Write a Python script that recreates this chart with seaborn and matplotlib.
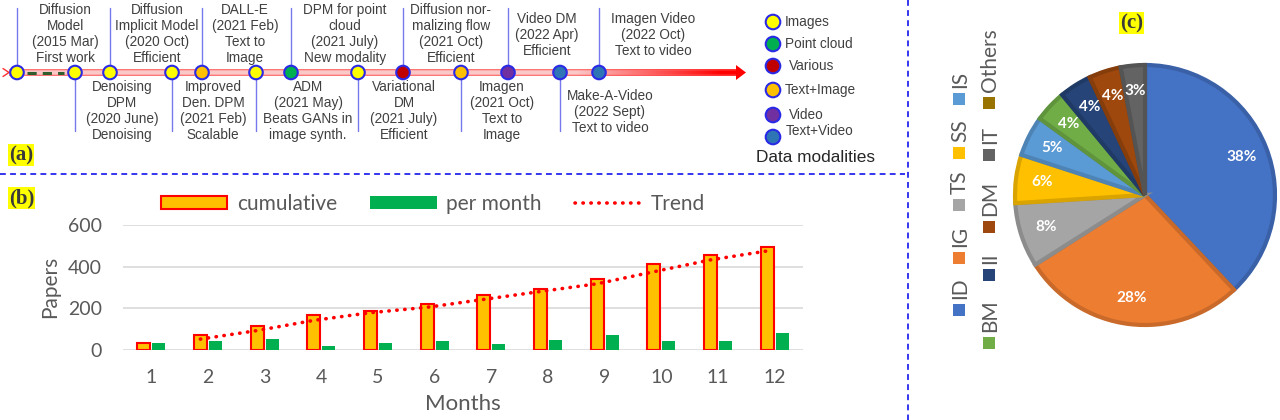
import numpy as np
import pandas as pd
import matplotlib
matplotlib.use("Agg")
import matplotlib.pyplot as plt
import seaborn as sns
from matplotlib.patches import Polygon, Rectangle, Patch
from matplotlib.lines import Line2D
from matplotlib.colors import to_rgb

# ---------------- data ----------------
# (a) timeline
event_texts = [
    "Diffusion\nModel\n(2015 Mar)\nFirst work",
    "Denoising\nDPM\n(2020 June)\nDenoising",
    "Diffusion\nImplicit Model\n(2020 Oct)\nEfficient",
    "Improved\nDen. DPM\n(2021 Feb)\nScalable",
    "DALL-E\n(2021 Feb)\nText to\nImage",
    "ADM\n(2021 May)\nBeats GANs in\nimage synth.",
    "DPM for point\ncloud\n(2021 July)\nNew modality",
    "Variational\nDM\n(2021 July)\nEfficient",
    "Diffusion nor-\nmalizing flow\n(2021 Oct)\nEfficient",
    "Imagen\n(2021 Oct)\nText to\nImage",
    "Video DM\n(2022 Apr)\nEfficient",
    "Make-A-Video\n(2022 Sept)\nText to video",
    "Imagen Video\n(2022 Oct)\nText to video",
]
event_modality = ["Images", "Images", "Images", "Images", "Text+Image", "Images",
                  "Point cloud", "Images", "Various", "Text+Image", "Video",
                  "Text+Video", "Text+Video"]
modalities = ["Images", "Point cloud", "Various", "Text+Image", "Video", "Text+Video"]
modality_legend_title = "Data modalities"

# (b) papers per month
months = [1, 2, 3, 4, 5, 6, 7, 8, 9, 10, 11, 12]
cumulative = [34, 69, 114, 168, 188, 220, 265, 294, 339, 411, 454, 496]
per_month = [34, 43, 51, 18, 32, 40, 27, 45, 72, 40, 43, 79]
trend_months = [2, 3, 4, 5, 6, 7, 8, 9, 10, 11, 12]
trend = [51, 92, 141, 178, 204, 242, 280, 317, 375, 432, 475]
y_ticks = [0, 200, 400, 600]

# (c) pie
pie_labels = ["ID", "IG", "TS", "SS", "IS", "BM", "II", "DM", "IT", "Others"]
pie_values = [38, 28, 8, 6, 5, 4, 4, 4, 3, 0]

# ---------------- styles / layout ----------------
modality_colors = {"Images": "#ffff00", "Point cloud": "#00b050", "Various": "#c00000",
                   "Text+Image": "#ffc000", "Video": "#7030a0", "Text+Video": "#2e75b6"}
pie_colors = ["#4472c4", "#ed7d31", "#a5a5a5", "#ffc000", "#5b9bd5",
              "#70ad47", "#264478", "#9e480e", "#636363", "#997300"]

event_x = [17, 75, 110, 172, 202, 256, 291, 358, 403, 461, 508, 560, 599]
text_x = [65, 122, 157, 213, 245, 308, 345, 404, 451, 502, 547, 610, 653]
TL_Y = 72.5

sns.set_theme(style="white")
plt.rcParams["font.family"] = ["Liberation Sans", "DejaVu Sans"]

W, H = 1280, 420
fig = plt.figure(figsize=(W / 100, H / 100), dpi=100)

# overlay axes in pixel coordinates
ov = fig.add_axes([0, 0, 1, 1])
ov.set_xlim(0, W)
ov.set_ylim(H, 0)
ov.axis("off")

# separators
sep_col = "#3535ee"
ov.plot([0, 905], [174, 174], color=sep_col, lw=1.4, dashes=(3, 2.2))
ov.plot([908, 908], [0, 420], color=sep_col, lw=1.4, dashes=(3, 2.2))

# gradient timeline band
x0, x1, y0, y1 = 9, 737, 69, 76
n = 600
t = np.linspace(0, 1, n)
pink = np.array(to_rgb("#fbc8c8"))
red = np.array([1.0, 0.0, 0.0])
ramp = np.clip((t - 0.78) / 0.2, 0, 1)[:, None]
base = pink * (1 - ramp) + red * ramp
rows = []
for r in range(7):
    if r in (0, 6):
        rows.append(base * 0.35 + np.array(to_rgb("#ff4a4a")) * 0.65)
    elif r in (1, 5):
        rows.append(base * 0.7 + np.array(to_rgb("#ff6a6a")) * 0.3)
    else:
        rows.append(base)
img = np.stack(rows, axis=0)
ov.imshow(img, extent=[x0, x1, y1, y0], aspect="auto", interpolation="bilinear", zorder=2)
ov.add_patch(Polygon([(x1 - 1, 65), (746, TL_Y), (x1 - 1, 80)], closed=True,
                     facecolor="#ff0000", edgecolor="none", zorder=2))
ov.plot([3, 9, 3], [68.5, TL_Y, 76.5], color="#ff3030", lw=1, zorder=2)
ov.set_xlim(0, W)
ov.set_ylim(H, 0)

# dashed first segment
ov.plot([27, 64], [TL_Y, TL_Y], color="#2e5e2e", lw=2.2, dashes=(3, 2), zorder=3)

# connectors and texts
txt_col = "#404040"
for i, (ex, tx, label) in enumerate(zip(event_x, text_x, event_texts)):
    up = (i % 2 == 0)
    lines = label.split("\n")
    if up:
        ov.plot([ex, ex], [8, TL_Y], color="#7777ee", lw=1, zorder=1)
        start = 10 if len(lines) == 4 else 19
    else:
        ov.plot([ex, ex], [TL_Y, 131], color="#7777ee", lw=1, zorder=1)
        start = 87 if len(lines) == 4 else 96
    for k, ln in enumerate(lines):
        ov.text(tx, start + 16 * k, ln, ha="center", va="center",
                fontsize=9.8, color=txt_col)

ov.scatter(event_x, [TL_Y] * len(event_x), s=95,
           c=[modality_colors[m] for m in event_modality],
           edgecolors="#2a2ae6", linewidths=1.5, zorder=5)

# modality legend
leg_y = [22, 44, 66, 90, 115, 137]
leg_tx = [785, 785, 789, 785, 789, 786]
leg_ty = [0, 0, 0, 0, 0, -6]
ov.scatter([773] * len(modalities), leg_y, s=110,
           c=[modality_colors[m] for m in modalities],
           edgecolors="#2a2ae6", linewidths=1.5, zorder=5)
for m, y, lx, dy in zip(modalities, leg_y, leg_tx, leg_ty):
    ov.text(lx, y + dy, m, ha="left", va="center", fontsize=9.8, color=txt_col)
ov.text(756, 158, modality_legend_title, ha="left", va="center",
        fontsize=12.4, color="#262626")

# panel labels
for s, x, y in [("(a)", 9, 155), ("(b)", 9, 198), ("(c)", 1120, 23)]:
    ov.text(x, y, s, ha="left", va="center", fontsize=15, fontweight="bold",
            family="Liberation Serif", color="#3a3a3a",
            bbox=dict(facecolor="#ffff00", edgecolor="none", pad=0.5))

# pie legend (rotated)
leg_txt_col = "#595959"
col1 = ["ID", "IG", "TS", "SS", "IS"]
col1_y = [310, 258, 205, 153, 99]
col2 = ["BM", "II", "DM", "IT", "Others"]
col2_y = [343, 275, 227, 155, 103]
for labels, ys, cx in [(col1, col1_y, 959), (col2, col2_y, 989)]:
    for lab, sy in zip(labels, ys):
        c = pie_colors[pie_labels.index(lab)]
        ov.add_patch(Rectangle((cx - 6, sy - 6), 12, 12, facecolor=c, edgecolor="none"))
        ov.text(cx + 1, sy - 11, lab, rotation=90, ha="center", va="bottom",
                fontsize=15, family="Lato", color=leg_txt_col)

# ---------------- (b) bar chart ----------------
axb = fig.add_axes([123 / W, (H - 349.7) / H, 680 / W, 124.7 / H])
axb.set_facecolor("none")
df = pd.DataFrame({
    "Month": months + months,
    "Papers": cumulative + per_month,
    "Series": ["cumulative"] * len(months) + ["per month"] * len(months),
})
sns.barplot(data=df, x="Month", y="Papers", hue="Series",
            palette={"cumulative": "#ffc000", "per month": "#00b050"},
            width=0.54, gap=0.15, saturation=1, legend=False, ax=axb, zorder=3)
for bar in axb.containers[0]:
    bar.set_edgecolor("#ff0000")
    bar.set_linewidth(1.5)
for bar in axb.containers[1]:
    bar.set_edgecolor("none")
tx = np.array(trend_months) - 1 - 0.135
axb.plot(tx, trend, color="#ff0000", lw=2.6, linestyle=(0, (0.1, 2.1)),
         dash_capstyle="round", zorder=4)
axb.set_xlim(-0.5, 11.5)
axb.set_ylim(0, 600)
axb.set_yticks(y_ticks)
for s in axb.spines.values():
    s.set_visible(False)
axb.grid(axis="y", color="#d9d9d9", lw=1.2, zorder=0)
axb.grid(axis="x", visible=False)
axb.tick_params(length=0, labelsize=14, labelcolor="#595959")
axb.tick_params(axis="y", pad=15)
axb.tick_params(axis="x", pad=14)
for lab in axb.get_xticklabels() + axb.get_yticklabels():
    lab.set_family("Lato")
axb.set_xlabel("Months", fontsize=16, family="Lato", color="#595959", labelpad=6)
axb.set_ylabel("Papers", fontsize=15, family="Lato", color="#595959", labelpad=6)

handles = [Patch(facecolor="#ffc000", edgecolor="#ff0000", lw=1.5),
           Patch(facecolor="#00b050", edgecolor="none"),
           Line2D([0], [0], color="#ff0000", lw=2.6, linestyle=(0, (0.1, 2.1)),
                  dash_capstyle="round")]
fig.legend(handles, ["cumulative", "per month", "Trend"], loc="center",
           bbox_to_anchor=(433 / W, 1 - 204 / H), bbox_transform=fig.transFigure,
           ncol=3, frameon=False, handlelength=3.2, handleheight=0.6,
           handletextpad=0.45, columnspacing=1.6,
           prop={"family": "Lato", "size": 15}, labelcolor="#595959")

# ---------------- (c) pie ----------------
R = 130
axp = fig.add_axes([(1145 - R) / W, (H - 195 - R) / H, 2 * R / W, 2 * R / H])


def pct(v):
    return "" if v < 0.5 else f"{v:.0f}%"


wedges, texts, autotexts = axp.pie(
    pie_values, colors=pie_colors, startangle=90, counterclock=False,
    autopct=pct, pctdistance=0.8,
    textprops=dict(color="white", fontsize=11, fontweight="bold", family="Lato"))
for w, c, v in zip(wedges, pie_colors, pie_values):
    dark = np.array(to_rgb(c)) * 0.85
    w.set_edgecolor(dark)
    w.set_linewidth(3 if v > 0 else 0)
    w.set_clip_on(False)
axp.set_xlim(-1, 1)
axp.set_ylim(-1, 1)
axp.set_aspect("equal")
axp.axis("off")

fig.savefig("out.png", dpi=100)
